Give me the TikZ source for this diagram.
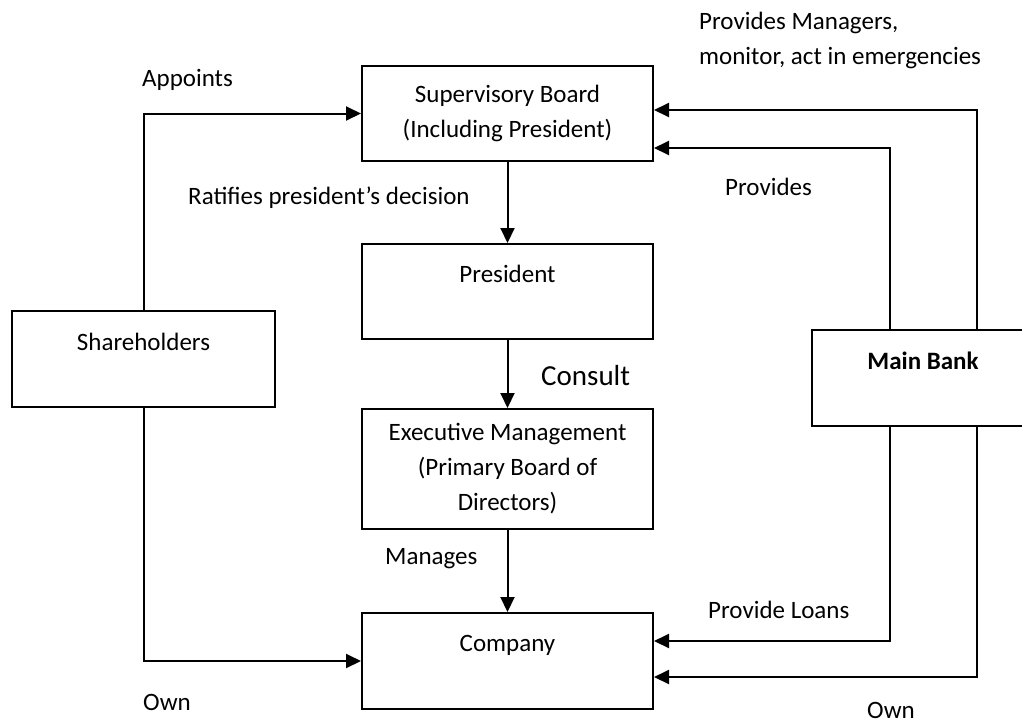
\documentclass[tikz,border=0pt]{standalone}
\usepackage{fontspec}
\setmainfont{Carlito}
\usetikzlibrary{arrows.meta,shapes}
\tikzstyle{box}=[draw,line width=2pt,minimum width=291pt,minimum height=95pt,inner sep=0pt,align=center]
\tikzstyle{tag}=[inner sep=0pt,anchor=west,align=left]
\tikzstyle{edge}=[draw,line width=2pt,-{Triangle[length=15pt,width=14pt]}]

\begin{document}
\begin{tikzpicture}[x=1pt,y=-1pt,font=\fontsize{25}{35}\selectfont]
    \useasboundingbox (0,0) rectangle (1022,724);
    % First we draw the boxes
    \node[box] (sup) at (507.5,113.5) {Supervisory Board\\(Including President)};
    \node[box] (pres) at (507.5,291.5) {President\\ ~};
    \node[box,minimum height=120pt] (exec) at (507.5,469) {Executive Management\\(Primary Board of\\Directors)};
    \node[box,minimum height=96pt] (comp) at (507.5,661) {Company\\ ~};
    \node[box,minimum width=263pt,minimum height=96pt] (share) at (143.5,359) {Shareholders\\ ~};
    \node[box,minimum width=222pt,minimum height=96pt] (bank) at (923,378) {\textbf{Main Bank}\\ ~};
    % Connect boxes down the middle
    \foreach \source/\dest in {sup/pres, pres/exec, exec/comp}
        \path[edge] (\source) -- (\dest);
    % Shareholders and main bank
    \path[edge] (share.north) |- (sup.west);
    \path[edge] (share.south) |- (comp.west);
    \path[edge] ([xshift=54pt]bank.north) |- ([yshift=3.5pt]sup.east);
    \path[edge] ([xshift=-33pt]bank.north) |- ([yshift=-34.5pt]sup.east);
    \path[edge] ([xshift=-33pt]bank.south) |- ([yshift=20pt]comp.east);
    \path[edge] ([xshift=54pt]bank.south) |- ([yshift=-16pt]comp.east);
    % Labels
    \node[tag] (appoints) at (142,80) {Appoints};
    \node[tag] (ratifies) at (188,198) {Ratifies president’s decision};
    \node[tag] (managers) at (699,40) {Provides Managers,\\monitor, act in emergencies};
    \node[tag] (provides) at (725,187) {Provides};
    \node[tag,font=\fontsize{29}{35}\selectfont] (consult) at (541,376) {Consult};
    \node[tag] (manages) at (385,559) {Manages};
    \node[tag] (loans) at (708,610) {Provide Loans};
    \node[tag] (ownleft) at (143,702) {Own};
    \node[tag] (ownright) at (867,710) {Own};
\end{tikzpicture}
\end{document}
